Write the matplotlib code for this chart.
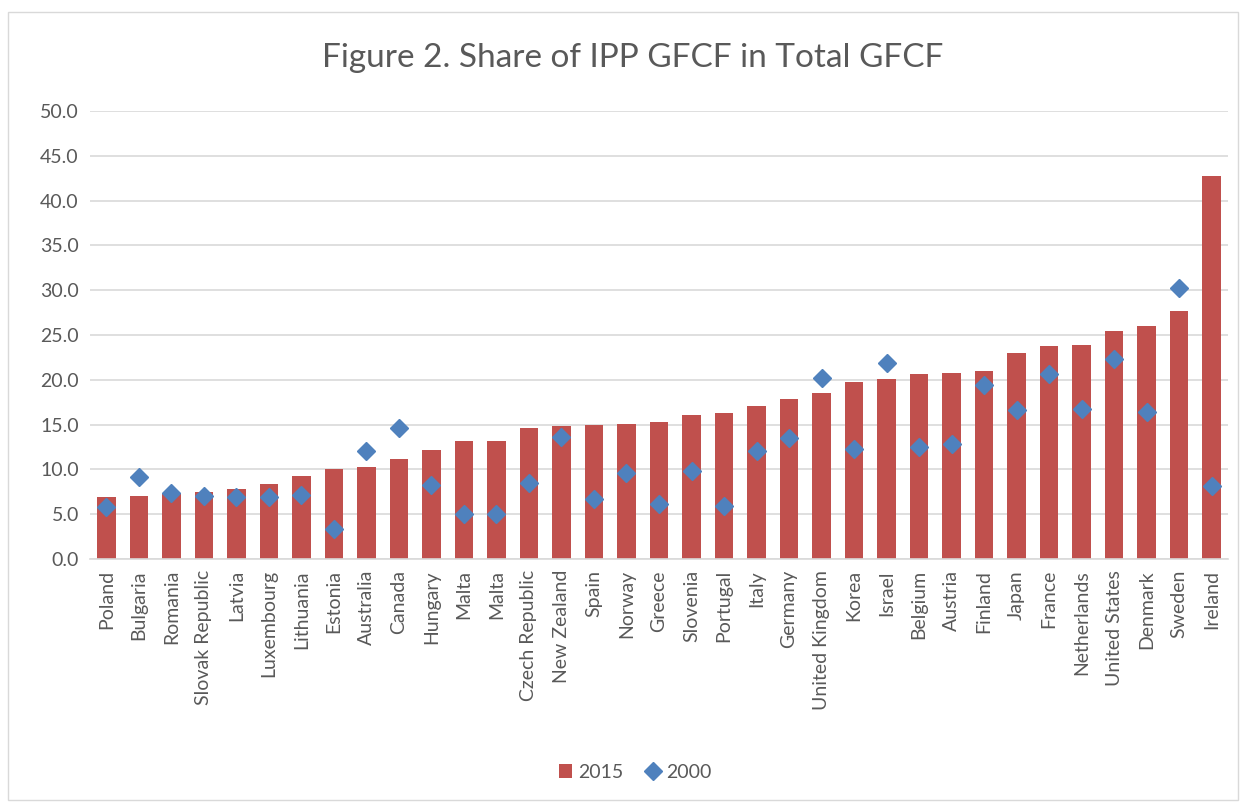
import numpy as np
from matplotlib import pyplot as plt
from matplotlib.patches import Rectangle

countries = ["Poland", "Bulgaria", "Romania", "Slovak Republic", "Latvia", "Luxembourg",
             "Lithuania", "Estonia", "Australia", "Canada", "Hungary", "Malta", "Malta",
             "Czech Republic", "New Zealand", "Spain", "Norway", "Greece", "Slovenia",
             "Portugal", "Italy", "Germany", "United Kingdom", "Korea", "Israel", "Belgium",
             "Austria", "Finland", "Japan", "France", "Netherlands", "United States",
             "Denmark", "Sweden", "Ireland"]
share_2015 = [6.9, 7.0, 7.3, 7.5, 7.8, 8.4, 9.3, 10.0, 10.3, 11.2, 12.2, 13.2, 13.2,
              14.6, 14.8, 15.0, 15.1, 15.3, 16.1, 16.3, 17.1, 17.9, 18.5, 19.7, 20.1,
              20.6, 20.8, 21.0, 23.0, 23.8, 23.9, 25.5, 26.0, 27.7, 42.8]
share_2000 = [5.8, 9.1, 7.4, 7.0, 6.9, 6.9, 7.1, 3.4, 12.0, 14.6, 8.3, 5.0, 5.0,
              8.5, 13.6, 6.7, 9.6, 6.1, 9.85, 5.9, 12.1, 13.5, 20.2, 12.3, 21.9,
              12.5, 12.8, 19.4, 16.6, 20.6, 16.7, 22.3, 16.4, 30.2, 8.2]
yticks = np.arange(0, 50.1, 5)

plt.rcParams['font.family'] = ['Lato', 'DejaVu Sans']
txt = "#595959"

fig = plt.figure(figsize=(12.46, 8.02), dpi=100)
# chart border
fig.patches.append(Rectangle((8/1246, 2/802), 1230/1246, 788/802, transform=fig.transFigure,
                             fill=False, edgecolor="#d9d9d9", linewidth=1.0))
ax = fig.add_axes([90/1246, 1 - 559/802, 1138/1246, 448/802])

x = np.arange(len(countries))
bars = ax.bar(x, share_2015, width=0.57, color="#c0504d", label="2015", zorder=2)
dots, = ax.plot(x, share_2000, linestyle="none", marker="D", markersize=9, color="#4f81bd",
                label="2000", zorder=3)

ax.set_xlim(-0.5, len(countries) - 0.5)
ax.set_ylim(0, 50)
ax.set_yticks(yticks)
ax.set_yticklabels([f"{v:.1f}" for v in yticks], fontsize=14, color=txt)
ax.set_xticks(x)
ax.set_xticklabels(countries, rotation=90, fontsize=14, color=txt)
ax.tick_params(length=0, pad=8)
ax.grid(axis="y", color="#d9d9d9", linewidth=1.2, zorder=0)
for s in ["top", "right", "left"]:
    ax.spines[s].set_visible(False)
ax.spines["bottom"].set_color("#d9d9d9")
ax.spines["bottom"].set_linewidth(1.2)

fig.text(633/1246, 1 - 58/802, "Figure 2. Share of IPP GFCF in Total GFCF", ha="center",
         va="center", fontsize=24, color=txt)

fig.legend([bars, dots], ["2015", "2000"], loc="center", bbox_to_anchor=(635/1246, 1 - 772/802),
           ncol=2, frameon=False, fontsize=14, labelcolor=txt, handlelength=0.7,
           handleheight=0.7, handletextpad=0.3, columnspacing=1.2)

fig.savefig("out.png", dpi=100)
